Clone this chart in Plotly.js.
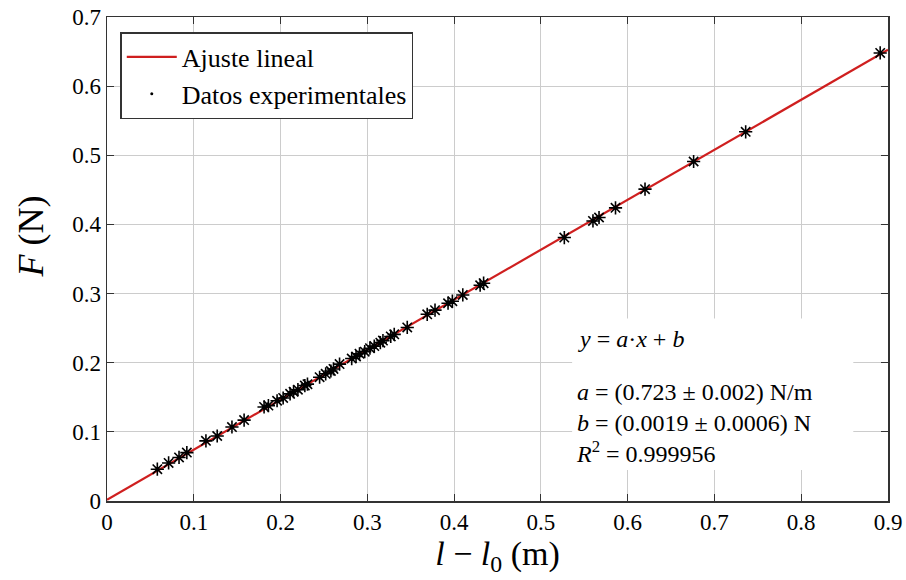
<!DOCTYPE html>
<html>
<head>
<meta charset="utf-8">
<script src="https://cdn.plot.ly/plotly-3.0.1.min.js"></script>
<style>html,body{margin:0;padding:0;background:#fff;}#chart{width:906px;height:580px;}</style>
</head>
<body>
<div id="chart"></div>
<script>
// Experimental data: elongation l - l0 (m) and force F (N)
const elongation = [0.058,0.071,0.083,0.092,0.114,0.127,0.144,0.158,0.181,0.186,0.196,0.203,0.211,0.215,0.220,0.228,0.231,0.245,0.252,0.258,0.261,0.268,0.282,0.287,0.291,0.297,0.303,0.308,0.315,0.318,0.327,0.331,0.346,0.369,0.378,0.393,0.398,0.410,0.430,0.434,0.527,0.560,0.567,0.586,0.620,0.676,0.736,0.891];
const force      = [0.046,0.055,0.063,0.070,0.087,0.094,0.107,0.117,0.136,0.138,0.145,0.149,0.155,0.158,0.161,0.167,0.169,0.179,0.184,0.188,0.191,0.198,0.206,0.209,0.213,0.216,0.221,0.224,0.229,0.232,0.238,0.241,0.251,0.270,0.276,0.286,0.289,0.298,0.312,0.315,0.381,0.405,0.410,0.424,0.451,0.491,0.534,0.648];
// Linear fit parameters
const slopeA = 0.723;
const interceptB = 0.0019;
const fitX = [0, 0.9];
const fitY = fitX.map(x => slopeA * x + interceptB);

const xTicks = [0,0.1,0.2,0.3,0.4,0.5,0.6,0.7,0.8,0.9];
const xTickLabels = ['0','0.1','0.2','0.3','0.4','0.5','0.6','0.7','0.8','0.9'];
const yTicks = [0,0.1,0.2,0.3,0.4,0.5,0.6,0.7];
const yTickLabels = ['0','0.1','0.2','0.3','0.4','0.5','0.6','0.7'];

const fitEquation = '<i>y</i> = <i>a</i>\u00b7<i>x</i> + <i>b</i>';
const fitResults = ['<i>a</i> = (0.723 \u00b1 0.002) N/m',
                    '<i>b</i> = (0.0019 \u00b1 0.0006) N',
                    '<i>R</i><sup>2</sup> = 0.999956'];

const serif = 'Liberation Serif';

const traces = [
  {x: fitX, y: fitY, mode: 'lines', name: 'Ajuste lineal',
   line: {color: '#cf1f1f', width: 2.2}},
  {x: [null], y: [null], mode: 'markers', name: 'Datos experimentales',
   marker: {symbol: 'circle', size: 3, color: '#000'}},
  {x: elongation, y: force, mode: 'markers', showlegend: false,
   marker: {symbol: 'asterisk-open', size: 11, color: '#000', line: {color: '#000', width: 1.6}}}
];

const annFont = {family: serif, size: 24, color: '#000'};

const layout = {
  width: 906, height: 580,
  margin: {l: 107, r: 18, t: 17, b: 79},
  paper_bgcolor: '#fff', plot_bgcolor: '#fff',
  font: {family: serif, color: '#000', size: 22},
  showlegend: true,
  legend: {x: 0.017, y: 0.969, xanchor: 'left', yanchor: 'top',
           bgcolor: '#fff', bordercolor: '#333', borderwidth: 1.5,
           itemwidth: 50,
           font: {family: serif, size: 26, color: '#000'}, tracegroupgap: 0},
  xaxis: {range: [0, 0.9], tickvals: xTicks, ticktext: xTickLabels,
          showgrid: true, gridcolor: '#cccccc', gridwidth: 1,
          zeroline: false, showline: true, linecolor: '#333', linewidth: 1.5, mirror: 'ticks',
          ticks: 'inside', ticklen: 7, tickcolor: '#333',
          tickfont: {family: serif, size: 23, color: '#000'},
          title: {text: '<i>l</i> \u2212 <i>l</i><sub>0</sub> (m)', font: {family: serif, size: 34, color: '#000'}, standoff: 4}},
  yaxis: {range: [0, 0.7], tickvals: yTicks, ticktext: yTickLabels,
          showgrid: true, gridcolor: '#cccccc', gridwidth: 1,
          zeroline: false, showline: true, linecolor: '#333', linewidth: 1.5, mirror: 'ticks',
          ticks: 'inside', ticklen: 7, tickcolor: '#333',
          tickfont: {family: serif, size: 23, color: '#000'},
          title: {text: ''}},
  shapes: [
    {type: 'rect', xref: 'x', yref: 'y', x0: 0.536, x1: 0.860, y0: 0.045, y1: 0.264,
     fillcolor: '#fff', line: {width: 0}, layer: 'between'}
  ],
  annotations: [
    {xref: 'paper', yref: 'paper', x: -0.097, y: 0.547, xanchor: 'center', yanchor: 'middle', showarrow: false,
     textangle: -90, text: '<i>F</i> (N)', font: {family: serif, size: 36, color: '#000'}},
    {xref: 'x', yref: 'y', x: 0.54, y: 0.235, xanchor: 'left', yanchor: 'middle', showarrow: false,
     text: fitEquation, font: annFont},
    {xref: 'x', yref: 'y', x: 0.538, y: 0.1125, xanchor: 'left', yanchor: 'middle', showarrow: false,
     align: 'left', text: fitResults.join('<br>'), font: annFont}
  ]
};

Plotly.newPlot('chart', traces, layout, {displayModeBar: false, staticPlot: true});
</script>
</body>
</html>
